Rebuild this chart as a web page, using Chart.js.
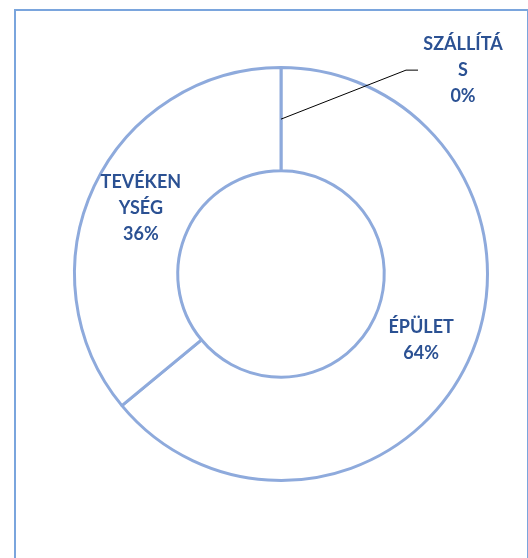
<!DOCTYPE html>
<html>
<head>
<meta charset="utf-8">
<script src="https://cdn.jsdelivr.net/npm/chart.js@4.4.0/dist/chart.umd.min.js"></script>
<style>
  html, body { margin: 0; padding: 0; background: #fff; }
  #wrap { position: relative; width: 528px; height: 558px; overflow: hidden; }
  #frame { position: absolute; left: 14px; top: 9px; width: 511px; height: 560px; border: 2px solid #7aa5dd; }
  #chart { position: absolute; left: 0; top: 0; }
</style>
</head>
<body>
<div id="wrap">
  <div id="frame"></div>
  <canvas id="chart" width="528" height="558"></canvas>
</div>
<script>
  // categories and their share (%)
  const categories = ["ÉPÜLET", "TEVÉKENYSÉG", "SZÁLLÍTÁS"];
  const shares = [64, 36, 0];
  // how each label wraps in the picture
  const labelLines = [["ÉPÜLET"], ["TEVÉKEN", "YSÉG"], ["SZÁLLÍTÁ", "S"]];

  const ringColor = "#8eaadc";
  const textColor = "#2b5193";

  const sliceLabels = {
    id: "sliceLabels",
    afterDatasetsDraw(chart) {
      const ctx = chart.ctx;
      const meta = chart.getDatasetMeta(0);
      ctx.save();
      ctx.font = "bold 18px Lato";
      ctx.fillStyle = textColor;
      ctx.textAlign = "center";
      ctx.textBaseline = "middle";
      meta.data.forEach((arc, i) => {
        const p = arc.getCenterPoint();
        const lines = labelLines[i].concat([shares[i] + "%"]);
        let x = p.x, y = p.y;
        if (shares[i] === 0) {
          // empty slice: label pushed out with a leader line
          x = p.x + 182;
          y = p.y - 49;
          ctx.strokeStyle = "#000";
          ctx.lineWidth = 1;
          ctx.beginPath();
          ctx.moveTo(p.x, p.y);
          ctx.lineTo(x - 57, y);
          ctx.lineTo(x - 45, y);
          ctx.stroke();
        }
        lines.forEach((t, k) => {
          ctx.fillText(t, x, y + (k - (lines.length - 1) / 2) * 26);
        });
      });
      ctx.restore();
    },
  };

  new Chart(document.getElementById("chart"), {
    type: "doughnut",
    data: {
      labels: categories,
      datasets: [
        {
          data: shares,
          backgroundColor: "#ffffff",
          borderColor: ringColor,
          borderWidth: 3,
        },
      ],
    },
    options: {
      responsive: false,
      animation: false,
      events: [],
      cutout: "50%",
      layout: { padding: { left: 73, right: 39, top: 66, bottom: 76 } },
      plugins: {
        legend: { display: false },
        tooltip: { enabled: false },
      },
    },
    plugins: [sliceLabels],
  });
</script>
</body>
</html>
